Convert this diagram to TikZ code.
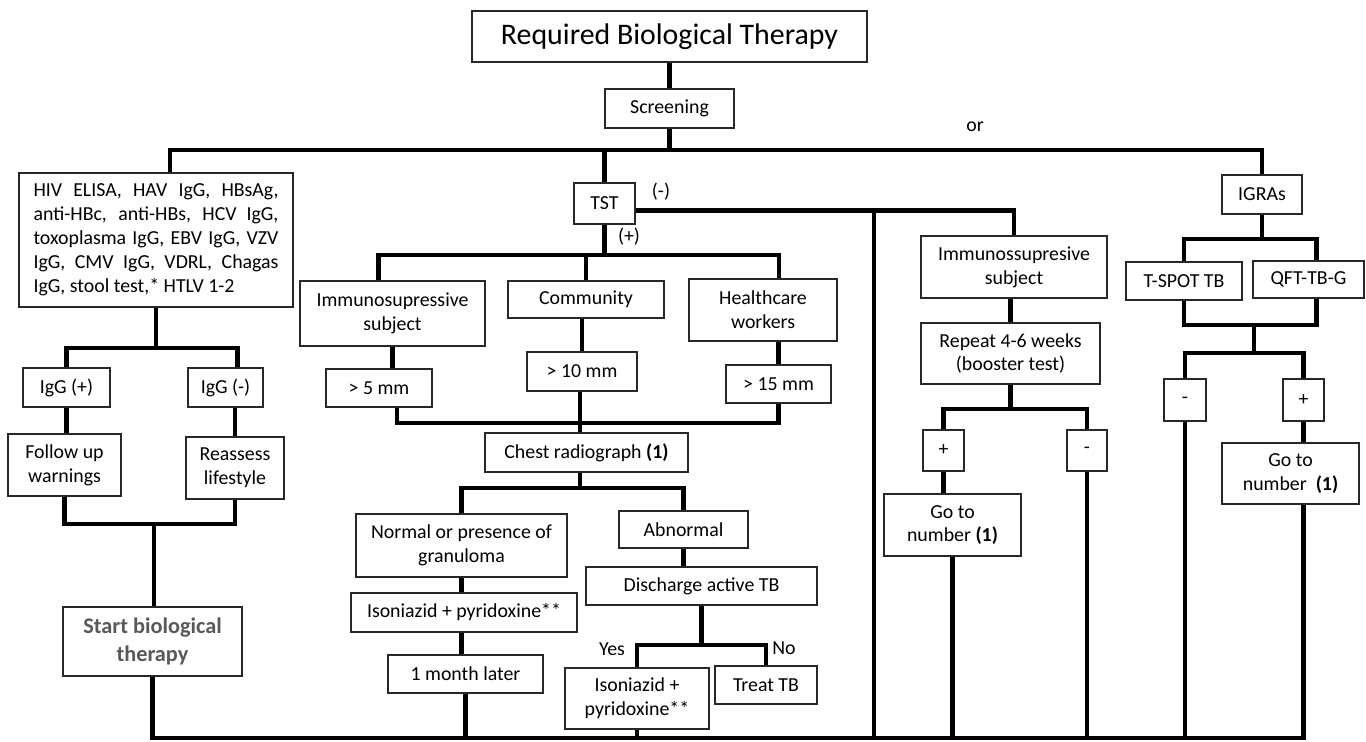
\documentclass[tikz,border=0pt]{standalone}
\usepackage{fontspec}
\setmainfont{Carlito}
\usepackage{xcolor}
\usetikzlibrary{calc}
\definecolor{framegray}{RGB}{40,40,40}
\definecolor{startgray}{RGB}{89,89,89}

\begin{document}
\begin{tikzpicture}[x=0.02cm, y=-0.02cm,
  box/.style={draw=framegray, line width=0.9pt, fill=white, inner sep=0pt, align=center,
    font=\fontsize{11.3}{13.6}\selectfont},
  boxsize/.style 2 args={minimum width=#1*0.02cm, minimum height=#2*0.02cm},
  link/.style={line width=2.4pt},
  tag/.style={inner sep=0pt, font=\fontsize{11.3}{13.6}\selectfont}]

\fill[white] (0,0) rectangle (1366,741);

\node[box, boxsize={395}{51}, font=\fontsize{17}{20}\selectfont] (title) at (669.5,36.5) {Required Biological Therapy};
\node[box, boxsize={129}{39}] (screen) at (669.5,108.5) {Screening};
\node[tag] (or) at (975,127) {or};

\node[box, boxsize={274}{134}, text width=4.9cm, align=justify] (hiv) at (156,240) {\exhyphenpenalty=10000 HIV ELISA, HAV IgG, HBsAg,\linebreak anti-HBc, anti-HBs, HCV IgG,\linebreak toxoplasma IgG, EBV IgG, VZV\linebreak IgG, CMV IgG, VDRL, Chagas\linebreak IgG, stool test,* HTLV 1-2};
\node[box, boxsize={61}{41}] (tst) at (604.5,203.5) {TST};
\node[tag] (neglbl) at (661,192) {(-)};
\node[tag] (poslbl) at (629,237) {(+)};
\node[box, boxsize={80}{39}] (igras) at (1262,194.5) {IGRAs};

\node[box, boxsize={87}{39}] (igp) at (66.5,387.5) {IgG (+)};
\node[box, boxsize={75}{39}] (igm) at (225.5,387.5) {IgG (-)};
\node[box, boxsize={113}{62}] (follow) at (64.5,465) {Follow up\\warnings};
\node[box, boxsize={98}{62}] (reassess) at (235,468) {Reassess\\lifestyle};
\node[box, boxsize={179}{69}, text=startgray, font=\bfseries\fontsize{12.7}{15.8}\selectfont] (start) at (152.5,641.5) {Start biological\\therapy};

\node[box, boxsize={185}{65}] (immuno) at (392.5,313.5) {Immunosupressive\\subject};
\node[box, boxsize={156}{37}] (comm) at (586,299.5) {Community};
\node[box, boxsize={148}{62}] (health) at (763,310) {Healthcare\\workers};
\node[box, boxsize={106}{38}] (mm5) at (379,388) {> 5 mm};
\node[box, boxsize={110}{39}] (mm10) at (582,371.5) {> 10 mm};
\node[box, boxsize={105}{38}] (mm15) at (778.5,384) {> 15 mm};
\node[box, boxsize={203}{39}] (chest) at (586.5,452.5) {Chest radiograph \textbf{(1)}};

\node[box, boxsize={211}{63}] (normal) at (461.5,545.5) {Normal or presence of\\granuloma};
\node[box, boxsize={226}{39}] (iso1) at (464,612.5) {Isoniazid + pyridoxine**};
\node[box, boxsize={155}{38}] (month) at (465.5,674) {1 month later};
\node[box, boxsize={129}{37}] (abn) at (683.5,529.5) {Abnormal};
\node[box, boxsize={231}{38}] (disch) at (701.5,586) {Discharge active TB};
\node[box, boxsize={144}{61}] (iso2) at (637,698.5) {Isoniazid +\\pyridoxine**};
\node[box, boxsize={102}{38}] (treat) at (766,685) {Treat TB};
\node[tag] (yes) at (612,649) {Yes};
\node[tag] (no) at (784,648) {No};

\node[box, boxsize={186}{62}] (isub) at (1014,267) {Immunossupresive\\subject};
\node[box, boxsize={179}{61}] (rpt) at (1010.5,353.5) {Repeat 4-6 weeks\\(booster test)};
\node[box, boxsize={41}{41}] (bp) at (943.5,450.5) {+};
\node[box, boxsize={40}{41}] (bm) at (1087,450.5) {-};
\node[box, boxsize={137}{62}] (goL) at (952.5,525) {Go to\\number \textbf{(1)}};

\node[box, boxsize={116}{38}] (tspot) at (1184,281) {T-SPOT TB};
\node[box, boxsize={111}{37}] (qft) at (1308.5,279.5) {QFT-TB-G};
\node[box, boxsize={42}{42}] (im) at (1185,400) {-};
\node[box, boxsize={41}{42}] (ip) at (1303.5,400) {+};
\node[box, boxsize={137}{61}] (goR) at (1290.5,473.5) {Go to\\number~ \textbf{(1)}};

\coordinate (bus) at (669,150);
\coordinate (neg) at (874,211);
\coordinate (pos) at (606,255);
\coordinate (mmjoin) at (580,423);
\coordinate (cxr) at (580,488);
\coordinate (dtb) at (702,645);
\coordinate (ser) at (157,348);
\coordinate (life) at (154,524);
\coordinate (booster) at (1009,409);
\coordinate (igra) at (1258,239);
\coordinate (res) at (1254,325);
\coordinate (res2) at (1254,353);
\coordinate (floor) at (154,738);

\draw[link] (title) -- (screen);
\draw[link] (screen) -- (screen |- bus);
\draw[link] ($(hiv.north)+(14,0)$) |- (bus) -| (igras.north);
\draw[link] (tst.north) -- (tst.north |- bus);
\draw[link] ($(tst.east)+(0,7)$) -| (isub.north);
\draw[link] (neg) -- (neg |- floor);

\draw[link] (tst.south) -- (tst.south |- pos);
\draw[link] ($(immuno.north)+(-14,0)$) |- (pos) -| ($(health.north)+(16,0)$);
\draw[link] (comm.north) -- (comm.north |- pos);
\draw[link] (immuno.south) -- (immuno.south |- mm5.north);
\draw[link] (mm10.north) -- (mm10.north |- comm.south);
\draw[link] (mm15.north) -- (mm15.north |- health.south);
\draw[link] ($(mm5.south)+(18,0)$) |- (mmjoin) -| (mm15.south);
\draw[link] (mmjoin |- mm10.south) -- (mmjoin |- chest.north);

\draw[link] (cxr |- chest.south) -- (cxr);
\draw[link] (normal.north) |- (cxr) -| (abn.north);
\draw[link] (normal.south) -- (normal.south |- iso1.north);
\draw[link] (normal.south |- iso1.south) -- (normal.south |- month.north);
\draw[link] (month.south) -- (month.south |- floor);
\draw[link] (abn.south) -- (abn.south |- disch.north);
\draw[link] (disch.south) -- (disch.south |- dtb);
\draw[link] (iso2.north) |- (dtb) -| (treat.north);
\draw[link] (iso2.south) -- (iso2.south |- floor);

\draw[link] (hiv.south) -- (hiv.south |- ser);
\draw[link] (igp.north) |- (ser) -| ($(igm.north)+(12,0)$);
\draw[link] (igp.south) -- (igp.south |- follow.north);
\draw[link] (reassess.north) -- (reassess.north |- igm.south);
\draw[link] (follow.south) |- (life) -| (reassess.south);
\draw[link] (life) -- (life |- start.north);
\draw[link] (start.south) -- (start.south |- floor) -| (goR.south -| ip.south);

\draw[link] (rpt.north) -- (rpt.north |- isub.south);
\draw[link] (rpt.south) -- (rpt.south |- booster);
\draw[link] (bp.north) |- (booster) -| (bm.north);
\draw[link] (bp.south) -- (bp.south |- goL.north);
\draw[link] (goL.south) -- (goL.south |- floor);
\draw[link] (bm.south) -- (bm.south |- floor);

\draw[link] (igras.south) -- (igras.south |- igra);
\draw[link] (tspot.north) |- (igra) -| ($(qft.north)+(8,0)$);
\draw[link] (tspot.south) |- (res) -| ($(qft.south)+(8,0)$);
\draw[link] (res) -- (res2);
\draw[link] (im.north) |- (res2) -| (ip.north);
\draw[link] (im.south) -- (im.south |- floor);
\draw[link] (ip.south) -- (ip.south |- goR.north);
\end{tikzpicture}
\end{document}
